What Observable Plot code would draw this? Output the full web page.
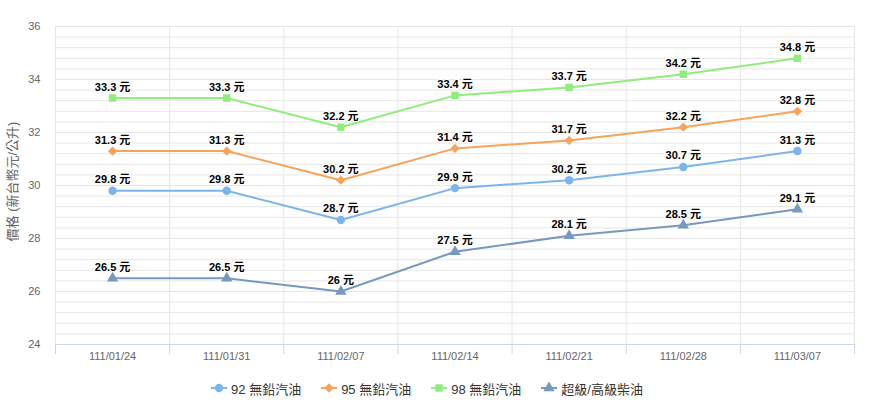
<!DOCTYPE html>
<html><head><meta charset="utf-8">
<script src="https://cdn.jsdelivr.net/npm/d3@7"></script>
<script src="https://cdn.jsdelivr.net/npm/@observablehq/plot@0.6"></script>
<style>
body{margin:0;background:#fff;font-family:"Liberation Sans",Arial,"Noto Sans CJK TC",sans-serif;}
#legend{display:flex;justify-content:center;align-items:center;height:32px;font-size:13px;font-weight:normal;color:#333;padding-right:20px;}
#legend .item{display:flex;align-items:center;margin:0 10px;}
#legend svg{margin-right:4px;}
</style>
</head><body><div id="chart"></div><div id="legend"></div>
<script>
const dates = ["111/01/24","111/01/31","111/02/07","111/02/14","111/02/21","111/02/28","111/03/07"];
const gas92 = [29.8, 29.8, 28.7, 29.9, 30.2, 30.7, 31.3];
const gas95 = [31.3, 31.3, 30.2, 31.4, 31.7, 32.2, 32.8];
const gas98 = [33.3, 33.3, 32.2, 33.4, 33.7, 34.2, 34.8];
const diesel = [26.5, 26.5, 26.0, 27.5, 28.1, 28.5, 29.1];
const seriesNames = ["92 無鉛汽油","95 無鉛汽油","98 無鉛汽油","超級/高級柴油"];
const colors = ["#7cb5ec","#f7a35c","#90ed7d","#7798BF"];
const symbols = ["circle","diamond2","square","triangle"];
const yTicks = [24,26,28,30,32,34,36];
const yMinorStep = 0.4;
const unit = " 元";
const yLabel = "價格 (新台幣元/公升)";

const series = [gas92, gas95, gas98, diesel];
const data = series.flatMap((vals, s) => vals.map((v, i) => ({i, v, s: seriesNames[s]})));
const bounds = d3.range(dates.length + 1).map(k => k - 0.5);
const yMin = yTicks[0], yMax = yTicks[yTicks.length - 1];
const minor = d3.range(0, Math.round((yMax - yMin) / yMinorStep) + 1).map(k => yMin + k * yMinorStep);
const font = '"Liberation Sans", Arial, "Noto Sans CJK TC", sans-serif';

const chart = Plot.plot({
  width: 874, height: 372,
  marginLeft: 55, marginRight: 20, marginTop: 26, marginBottom: 28,
  style: {fontFamily: font, fontSize: "11px", background: "#fff"},
  x: {domain: [-0.5, dates.length - 0.5]},
  y: {domain: [yMin, yMax]},
  color: {domain: seriesNames, range: colors},
  symbol: {domain: seriesNames, range: symbols},
  marks: [
    Plot.ruleY(minor, {stroke: "#e6e6e6"}),
    Plot.ruleX(bounds, {stroke: "#e6e6e6"}),
    Plot.ruleY([yMin], {stroke: "#ccd6eb"}),
    Plot.axisX(bounds, {tickSize: 10, tickFormat: () => "", stroke: "#ccd6eb", label: null}),
    Plot.axisX(d3.range(dates.length), {tickSize: 0, tickPadding: 8, tickFormat: i => dates[i], fill: "#666", fontSize: 11, label: null}),
    Plot.axisY(yTicks, {tickSize: 0, tickPadding: 15, fill: "#666", fontSize: 11, label: null}),
    Plot.text([yLabel], {frameAnchor: "left", textAnchor: "middle", lineAnchor: "middle", dx: -43, dy: -4, rotate: -90, fontSize: 13, fill: "#666"}),
    Plot.line(data, {x: "i", y: "v", z: "s", stroke: "s", strokeWidth: 2}),
    Plot.dot(data, {x: "i", y: "v", fill: "s", symbol: "s", r: 4.2}),
    Plot.text(data, {x: "i", y: "v", text: d => d.v + unit, dy: -11, fontWeight: "bold", fontSize: 11, fill: "#000", stroke: "#fff", strokeWidth: 2})
  ]
});
document.getElementById("chart").appendChild(chart);

const legend = d3.select("#legend");
seriesNames.forEach((name, k) => {
  const item = legend.append("div").attr("class", "item");
  const svg = item.append("svg").attr("width", 16).attr("height", 12);
  svg.append("line").attr("x1", 0).attr("x2", 16).attr("y1", 6).attr("y2", 6).attr("stroke", colors[k]).attr("stroke-width", 2);
  const sym = [d3.symbolCircle, d3.symbolDiamond2, d3.symbolSquare, d3.symbolTriangle][k];
  svg.append("path").attr("d", d3.symbol(sym, 55)()).attr("transform", "translate(8,6)").attr("fill", colors[k]);
  item.append("span").text(name);
});
</script>
</body></html>
